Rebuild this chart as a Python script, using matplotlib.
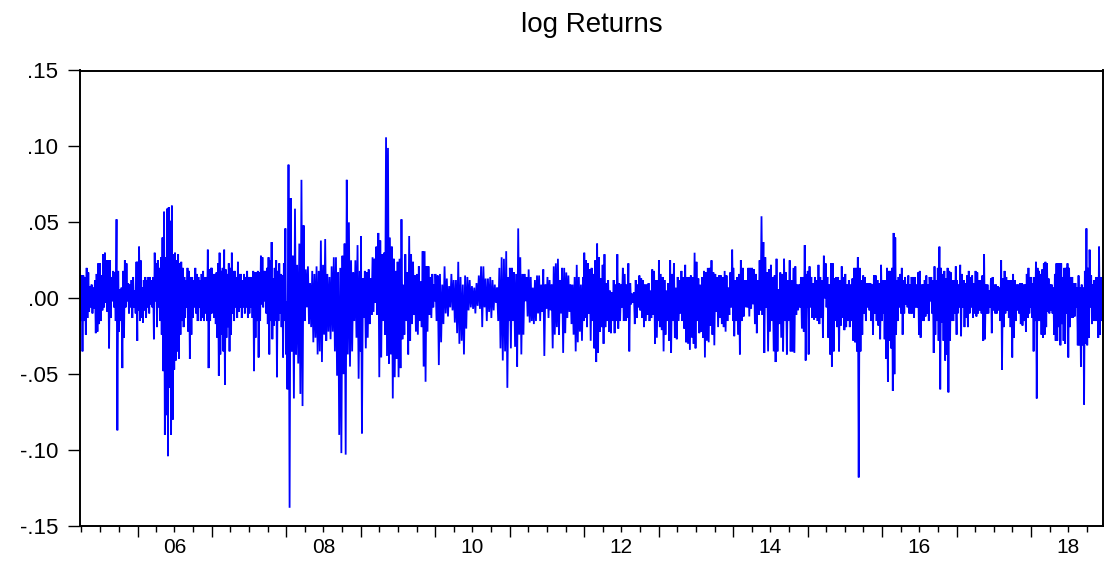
import numpy as np
import pandas as pd
import matplotlib
matplotlib.use("Agg")
import matplotlib.pyplot as plt
import matplotlib.dates as mdates
from matplotlib.ticker import NullFormatter, FuncFormatter

# ---------------- data (daily log returns, per year) ----------------
START = "2005-03-25"
END = "2018-12-19"

r2005 = [.021, -.015, .015, -.035, .015, -.015, .014, -.024, .020, -.013, .017, -.009,
         .008, -.006, .009, -.010, .007, -.007, .012, -.023, .016, -.022, .023, -.017,
         .023, -.015, .015, -.008, .029, -.006, .030, -.003, .025, -.009, .025, -.033,
         .025, -.013, .014, -.002, .018, -.006, .017, -.015, .052, -.087, .018, -.022,
         .006, -.015, .007, -.046, .018, -.026, .025, -.006, .023, -.002, .010, -.010,
         .009, -.006, .012, -.013, .014, -.006, .005, -.010, .024, -.028]
r2006 = [.024, -.008, .034, -.015, .025, -.013, .007, -.016, .012, -.008, .014, -.013,
         .012, -.006, .014, -.010, .014, -.004, .012, -.006, .014, -.027, .030, -.002,
         .023, -.019, .025, -.006, .020, -.015, .027, -.024, .040, -.048, .057, -.090,
         .027, -.077, .059, -.104, .060, -.059, .051, -.090, .061, -.080, .029, -.047,
         .030, -.041, .025, -.035, .029, -.040, .023, -.024, .024, -.015, .020, -.019,
         .014, -.013, .012, -.006, .020, -.022, .018, -.040, .014, -.024, .014, -.013,
         .012, -.006, .020, -.010, .016, -.015, .014, -.006, .012, -.015, .016, -.013,
         .018, -.015, .014, -.010, .014, -.015, .032, -.046, .019, -.015, .020, -.010]
r2007 = [.020, -.008, .016, -.013, .016, -.017, .017, -.026, .023, -.051, .030, -.037,
         .018, -.024, .020, -.035, .032, -.057, .019, -.026, .016, -.019, .023, -.035,
         .020, -.024, .030, -.010, .018, -.015, .018, -.006, .014, -.013, .024, -.009,
         .016, -.006, .016, -.013, .012, -.006, .016, -.010, .014, -.006, .018, -.013,
         .014, -.010, .014, -.006, .014, -.013, .018, -.048, .017, -.026, .017, -.015,
         .018, -.039, .017, -.015, .028, -.004, .027, -.006, .018, -.002, .018, -.010,
         .020, -.017, .027, -.037, .025, -.015, .037, -.027, .013, -.018, .020, -.015,
         .025, -.052, .018, -.015, .023, -.010, .016, -.019, .015, -.039, .023, -.015,
         .046, -.037]
r2008 = [-.002, -.060, .088, -.138, .066, -.035, .028, -.066, .059, -.037, .022, -.043,
         .036, -.063, .078, -.071, .048, -.015, .019, -.006, .021, -.017, .010, -.019,
         .018, -.029, .016, -.026, .021, -.037, .018, -.035, .038, -.042, .022, -.024,
         .039, -.028, .016, -.022, .014, -.027, .021, -.022, .027, -.035, .027, -.051,
         .017, -.090, .020, -.102, .028, -.050, .036, -.103, .078, -.037, .050, -.045,
         .025, -.035, .017, -.015, .025, -.026, .035, -.053, .018, -.035]
r2009 = [.041, -.089, .013, -.013, .018, -.033, .017, -.026, .019, -.017, .013, -.011,
         .027, -.009, .026, -.003, .034, -.011, .043, -.052, .038, -.039, .029, -.015,
         .030, -.024, .106, -.038, .099, -.043, .040, -.037, .034, -.066, .026, -.052,
         .018, -.040, .024, -.052, .026, -.046, .052, -.027, .009, -.024, .029, -.015,
         .017, -.037, .041, -.028, .029, -.017, .024, -.011, .015, -.022, .016, -.024,
         .021, -.015, .011, -.019, .031, -.045, .031, -.055, .021, -.022, .021, -.011,
         .014, -.013, .016, -.006, .009, -.002]
r2010 = [.016, -.015, .015, -.044, .016, -.029, .009, -.017, .021, -.010, .013, -.012,
         .008, -.006, .016, -.008, .012, -.016, .012, -.023, .024, -.030, .014, -.028,
         .009, -.037, .015, -.020, .014, -.008, .012, -.006, .008, -.007, .007, -.010,
         .010, -.005, .015, -.007, .021, -.019, .021, -.006, .013, -.015, .013, -.009,
         .014, -.013, .012, -.008, .009, -.003, .007, -.015, .020, -.033, .027, -.041,
         .026, -.035, .031, -.059, .014, -.015]
r2011 = [.020, -.033, .020, -.015, .017, -.032, .016, -.045, .046, -.024, .027, -.037,
         .016, -.024, .016, -.002, .014, -.012, .019, -.016, .014, -.015, .007, -.017,
         .012, -.015, .015, -.010, .015, -.015, .009, -.009, .019, -.038, .009, -.007,
         .014, -.013, .012, -.008, .009, -.033, .021, -.024, .023, -.019, .026, -.024,
         .012, -.010, .020, -.036, .020, -.023, .017, -.013, .015, -.009, .009, -.017,
         .009, -.024, .014, -.035, .022, -.029, .014, -.022, .009, -.028, .014, -.015]
r2012 = [.030, -.013, .025, -.019, .023, -.010, .019, -.028, .020, -.015, .016, -.033,
         .025, -.042, .036, -.036, .027, -.022, .013, -.019, .022, -.030, .029, -.019,
         .010, -.015, .012, -.022, .005, -.023, .004, -.015, .012, -.023, .009, -.015,
         .029, -.020, .010, -.015, .009, -.006, .020, -.015, .016, -.015, .009, -.013,
         .023, -.035, .010, -.004, .003, -.003, .004, -.017, .012, -.013, .009, -.006,
         .015, -.008, .013, -.013, .012, -.019, .009, -.015, .009, -.011, .010, -.015,
         .005, -.013, .019, -.011, .018, -.030, .012, -.026, .012, -.015]
r2013 = [.025, -.019, .016, -.021, .014, -.035, .012, -.024, .005, -.015, .010, -.028,
         .025, -.036, .016, -.015, .023, -.026, .007, -.027, .014, -.015, .012, -.010,
         .018, -.015, .014, -.020, .022, -.029, .014, -.030, .014, -.034, .015, -.026,
         .014, -.030, .030, -.033, .024, -.015, .013, -.023, .009, -.022, .014, -.026,
         .018, -.039, .017, -.028, .020, -.029, .020, -.018, .025, -.024, .017, -.031,
         .016, -.009, .014, -.019, .015, -.013, .015, -.017, .014, -.019, .018, -.022,
         .015, -.015, .007, -.011, .017, -.006, .032, -.015]
r2014 = [.020, -.025, .012, -.015, .014, -.024, .016, -.037, .025, -.015, .020, -.012,
         .012, -.006, .012, -.006, .020, -.012, .020, -.007, .020, -.004, .019, -.017,
         .016, -.023, .012, -.011, .025, -.008, .054, -.011, .037, -.036, .027, -.006,
         .017, -.035, .019, -.022, .022, -.015, .014, -.035, .015, -.042, .026, -.035,
         .006, -.017, .017, -.026, .016, -.035, .026, -.015, .017, -.037, .012, -.015,
         .025, -.035, .012, -.035, .020, -.036, .021, -.011, .009, -.008, .009, -.006,
         .014, -.020, .014, -.022, .035, -.041, .016, -.006]
r2015 = [.018, -.037, .021, -.006, .014, -.013, .010, -.014, .014, -.013, .012, -.015,
         .022, -.017, .014, -.013, .012, -.026, .028, .000, .023, -.006, .014, -.026,
         .009, -.037, .023, -.045, .023, -.035, .013, -.015, .014, -.019, .014, -.035,
         .012, -.018, .021, -.013, .014, -.021, .016, -.019, .009, -.015, .012, -.019,
         .009, -.015, .013, -.028, .020, -.029, .020, -.035, .027, -.118, .020, -.035,
         .012, -.024, .015, -.010, .014, -.015, .010, -.006, .010, -.008, .010, -.015,
         .009, -.024, .015, -.010, .015, -.015, .012, -.018, .010, -.027, .022, -.015]
r2016 = [.012, -.010, .012, -.027, .012, -.040, .020, -.055, .018, -.028, .018, -.033,
         .020, -.061, .043, -.050, .040, -.024, .012, -.015, .014, -.006, .016, -.010,
         .020, -.024, .012, -.010, .014, -.004, .009, -.006, .015, -.010, .009, -.010,
         .014, -.010, .014, -.013, .014, -.006, .009, -.006, .017, -.024, .018, -.026,
         .009, -.015, .009, -.015, .012, -.012, .015, -.010, .009, -.015, .014, -.002,
         .014, -.010, .012, -.036, .021, -.024, .012, -.015, .020, -.028, .034, -.060,
         .020, -.016, .016, -.028, .018, -.041, .013, -.037, .020, -.062, .018, -.028,
         .017, -.015, .012, -.015, .012, -.010, .021, -.024]
r2017 = [.012, -.010, .009, -.006, .022, -.025, .016, -.006, .012, -.019, .010, -.013,
         .015, -.019, .018, -.010, .014, -.006, .015, -.013, .010, -.010, .018, -.012,
         .017, -.010, .012, -.008, .012, -.010, .015, -.028, .029, -.027, .009, -.010,
         .009, -.010, .005, -.006, .013, -.023, .014, -.008, .009, -.010, .009, -.010,
         .008, -.008, .007, -.015, .025, -.047, .013, -.019, .018, -.010, .014, -.008,
         .012, -.013, .012, -.019, .012, -.039, .016, -.026, .012, -.015, .009, -.008,
         .009, -.010, .010, -.017, .010, -.018, .009, -.015, .009, -.022, .016, -.013,
         .020, -.010, .014, -.006]
r2018 = [.014, -.013, .010, -.035, .014, -.015, .024, -.066, .020, -.015, .018, -.015,
         .016, -.024, .019, -.026, .023, -.024, .024, -.019, .023, -.009, .013, -.010,
         .009, -.008, .009, -.010, .007, -.024, .016, -.028, .023, -.028, .023, -.019,
         .023, -.031, .023, -.017, .014, -.028, .020, -.030, .020, -.010, .023, -.039,
         .020, -.019, .014, -.013, .014, -.013, .010, -.012, .010, -.006, .007, -.031,
         .015, -.031, .007, -.045, .009, -.031, .007, -.070, .018, -.030, .046, -.031,
         .020, -.026, .032, -.006, .015, -.017, .009, -.015, .012, -.015, .014, -.015,
         .014, -.026, .034, -.024, .014, -.015, .012, -.015]

years = list(range(2005, 2019))
yearly_returns = [r2005, r2006, r2007, r2008, r2009, r2010, r2011, r2012,
                  r2013, r2014, r2015, r2016, r2017, r2018]

y_ticks = [-0.15, -0.10, -0.05, 0.00, 0.05, 0.10, 0.15]
y_tick_labels = ["-.15", "-.10", "-.05", ".00", ".05", ".10", ".15"]
label_years = [2006, 2008, 2010, 2012, 2014, 2016, 2018]
year_labels = ["06", "08", "10", "12", "14", "16", "18"]
title = "log Returns"

# ---------------- build the series ----------------
t0, t1 = pd.Timestamp(START), pd.Timestamp(END)
parts = []
for y, vals in zip(years, yearly_returns):
    s = max(pd.Timestamp(f"{y}-01-01"), t0)
    e = min(pd.Timestamp(f"{y}-12-31"), t1)
    parts.append(pd.date_range(s, e, periods=len(vals)))
dates = parts[0]
for p in parts[1:]:
    dates = dates.append(p)
values = np.concatenate([np.asarray(v, dtype=float) for v in yearly_returns])

# ---------------- plot ----------------
plt.rcParams["font.family"] = ["Liberation Sans", "DejaVu Sans"]

W, H = 1112, 562
fig = plt.figure(figsize=(W / 100, H / 100), dpi=100)
L, R, T, B = 80, 1103, 70.5, 526
ax = fig.add_axes([L / W, 1 - B / H, (R - L) / W, (B - T) / H])

ax.plot(dates, values, color="#0000ff", lw=1.3, solid_joinstyle="miter")

ax.set_xlim(t0, t1)
ax.set_ylim(-0.15, 0.15)
ax.set_yticks(y_ticks)
ax.set_yticklabels(y_tick_labels)

ax.xaxis.set_major_locator(mdates.YearLocator())
ax.xaxis.set_major_formatter(NullFormatter())
ax.xaxis.set_minor_locator(mdates.MonthLocator(bymonth=[1, 4, 7, 10]))
lab_map = dict(zip(label_years, year_labels))


def _fmt(x, pos=None):
    d = mdates.num2date(x)
    if d.month == 7 and d.year in lab_map:
        return lab_map[d.year]
    return ""


ax.xaxis.set_minor_formatter(FuncFormatter(_fmt))

for sp in ax.spines.values():
    sp.set_linewidth(1.4)
    sp.set_color("black")

ax.tick_params(axis="x", which="major", length=8, width=1.0, direction="out",
               top=False)
ax.tick_params(axis="x", which="minor", length=4.3, width=1.0, direction="out",
               labelsize=15, pad=4, top=False)
ax.tick_params(axis="y", which="major", length=8.5, width=1.0, direction="out",
               labelsize=16, pad=7, right=False)
ax.tick_params(axis="y", which="minor", left=False, right=False)

fig.text((L + R) / 2 / W, 1 - 31.7 / H, title, ha="center", va="baseline",
         fontsize=20)

fig.savefig("out.png", dpi=100)
